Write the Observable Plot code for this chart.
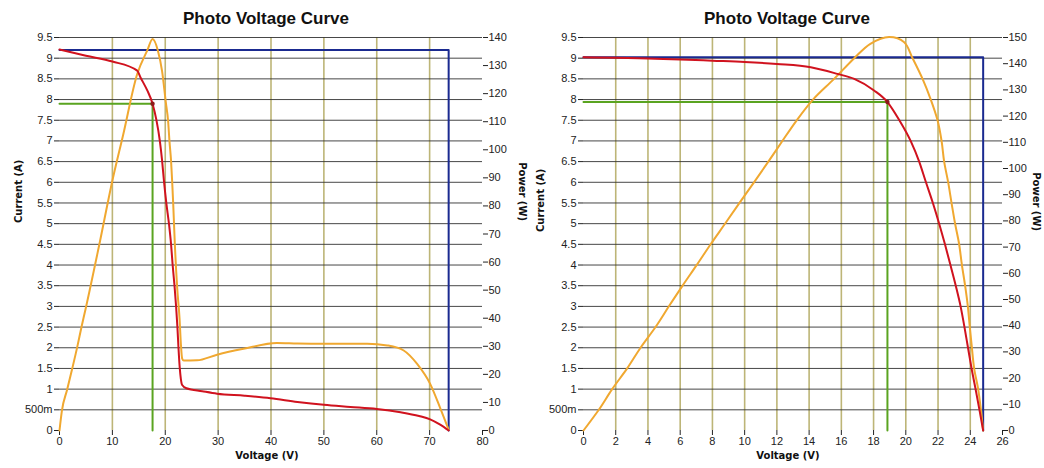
<!DOCTYPE html>
<html>
<head>
<meta charset="utf-8">
<script src="https://cdn.jsdelivr.net/npm/d3@7"></script>
<script src="https://cdn.jsdelivr.net/npm/@observablehq/plot@0.6"></script>
<style>
  html, body { margin: 0; padding: 0; background: #fff; }
  #root { position: relative; width: 1044px; height: 468px; overflow: hidden; }
  .panel { position: absolute; top: 0; height: 468px; }
  .title { height: 30px; box-sizing: border-box; padding-top: 10px; font: bold 17px "Liberation Sans", Arial, sans-serif; line-height: 17px; text-align: center; color: #111; }
</style>
</head>
<body>
<div id="root">
  <div class="panel" id="left" style="left:0;width:520px"><div class="title" style="padding-left:12px">Photo Voltage Curve</div></div>
  <div class="panel" id="right" style="left:520px;width:524px"><div class="title" style="padding-left:10px">Photo Voltage Curve</div></div>
</div>
<script>
// ---------- shared ticks ----------
const currentTicks = [0, 0.5, 1, 1.5, 2, 2.5, 3, 3.5, 4, 4.5, 5, 5.5, 6, 6.5, 7, 7.5, 8, 8.5, 9, 9.5];
const currentTickLabels = ["0", "500m", "1", "1.5", "2", "2.5", "3", "3.5", "4", "4.5", "5", "5.5", "6", "6.5", "7", "7.5", "8", "8.5", "9", "9.5"];

// ---------- left chart ----------
const leftVoltageTicks = [0, 10, 20, 30, 40, 50, 60, 70, 80];
const leftPowerTicks = [0, 10, 20, 30, 40, 50, 60, 70, 80, 90, 100, 110, 120, 130, 140];
const leftIV_V = [0, 5, 10, 14.7, 15.3, 16.6, 17.6, 18.35, 18.97, 19.4, 19.75, 20.2, 20.7, 21.1, 21.4, 21.75, 22.05, 22.3, 22.5, 22.75, 22.95, 23.2, 24.0, 27, 29.8, 35, 39.9, 45, 50, 55, 60, 64.5, 68, 70.1, 72, 73.6];
const leftIV_I = [9.21, 9.06, 8.92, 8.70, 8.54, 8.22, 7.9, 7.49, 7.01, 6.53, 6.04, 5.5, 5.0, 4.5, 4.0, 3.5, 3.0, 2.5, 2.0, 1.5, 1.25, 1.1, 1.02, 0.95, 0.89, 0.84, 0.78, 0.69, 0.62, 0.57, 0.52, 0.44, 0.35, 0.27, 0.14, 0];
const leftP_V = [0, 0.45, 1.45, 2.4, 3.35, 4.15, 4.9, 7.5, 10, 12, 14.7, 16.6, 17.6, 18.6, 19.4, 20.1, 20.55, 20.8, 21.1, 21.3, 21.5, 21.8, 22.25, 22.7, 22.95, 23.2, 23.5, 26, 29.8, 34.8, 41.1, 45, 50, 58.2, 62, 65.1, 67.6, 70.1, 72, 73.6];
const leftP_W = [0, 7, 14.6, 22, 29.7, 36.8, 43, 66, 89, 105, 127, 135.4, 139.5, 135.4, 128, 117, 110, 103, 96, 89, 81, 67, 51, 40, 31, 25.6, 24.9, 25, 27, 29.1, 31.2, 31, 30.9, 30.9, 30.3, 28.5, 23.8, 16.6, 8, 0.3];
const leftIsc = 9.2, leftVoc = 73.6, leftVmp = 17.6, leftImp = 7.9;

// ---------- right chart ----------
const rightVoltageTicks = [0, 2, 4, 6, 8, 10, 12, 14, 16, 18, 20, 22, 24, 26];
const rightPowerTicks = [0, 10, 20, 30, 40, 50, 60, 70, 80, 90, 100, 110, 120, 130, 140, 150];
const rightIV_V = [0, 2, 4, 6, 8, 10, 12, 14.1, 15.75, 16.8, 18.03, 18.86, 19.6, 20.3, 20.83, 21.25, 21.68, 22.07, 22.43, 22.77, 23.1, 23.4, 23.64, 23.86, 24.08, 24.33, 24.57, 24.8];
const rightIV_I = [9.02, 9.01, 8.99, 8.97, 8.94, 8.91, 8.86, 8.78, 8.62, 8.5, 8.22, 7.94, 7.5, 7.0, 6.5, 6.0, 5.5, 5.0, 4.5, 4.0, 3.5, 3.0, 2.5, 2.0, 1.5, 1.0, 0.5, 0];
const rightP_V = [0, 0.95, 1.78, 2.71, 3.54, 4.47, 5.3, 6.15, 7.03, 7.89, 8.78, 9.67, 10.58, 11.47, 12.34, 13.23, 14.24, 15.55, 16.8, 17.8, 18.96, 19.9, 20.42, 21.04, 21.55, 21.97, 22.22, 22.38, 22.63, 22.84, 23.06, 23.31, 23.48, 23.68, 23.85, 23.97, 24.1, 24.24, 24.49, 24.66, 24.8];
const rightP_W = [0, 7.9, 15.8, 23.7, 31.6, 39.5, 47.4, 55.3, 63.2, 71.1, 78.9, 86.8, 94.7, 102.6, 110.5, 118.4, 126.3, 134.2, 142.1, 147.6, 150.2, 148.2, 142.1, 134.2, 126.3, 118.4, 110.5, 102.6, 94.7, 86.8, 78.9, 71.1, 63.2, 55.3, 47.4, 39.5, 31.6, 23.7, 15.8, 7.9, 0];
const rightIsc = 9.02, rightVoc = 24.8, rightVmp = 18.86, rightImp = 7.94;

const COLORS = { current: "#d0121e", power: "#f0a830", isc: "#1a2a90", mpp: "#5aa420", vgrid: "#bdb577", hgrid: "#333333" };

function panel(o) {
  const yMax = 9.5;
  const k = yMax / o.pMax;
  const iv = o.ivV.map((v, i) => ({v, c: o.ivI[i]}));
  const pw = o.pV.map((v, i) => ({v, c: o.pW[i] * k}));
  const iscLine = [{v: 0, c: o.isc}, {v: o.voc, c: o.isc}, {v: o.voc, c: 0}];
  const mppLine = [{v: 0, c: o.imp}, {v: o.vmp, c: o.imp}, {v: o.vmp, c: 0}];
  const xMax = o.xTicks[o.xTicks.length - 1];
  const innerX = o.xTicks.filter(t => t > 0 && t < xMax);
  const labelFont = {fontFamily: "'DejaVu Sans', Verdana, sans-serif", fontSize: 10, fontWeight: "bold", fill: "#111"};
  return Plot.plot({
    width: o.width, height: 438,
    marginTop: 7, marginBottom: 38, marginLeft: o.marginLeft, marginRight: o.marginRight,
    x: {domain: [0, xMax]},
    y: {domain: [0, yMax]},
    style: {fontFamily: "'Liberation Sans', Arial, sans-serif", fontSize: "11px", color: "#222", background: "transparent", overflow: "visible"},
    marks: [
      Plot.ruleX(innerX, {stroke: COLORS.vgrid, strokeWidth: 1.6}),
      Plot.ruleY(currentTicks.filter(t => t > 0), {stroke: COLORS.hgrid, strokeWidth: 1, strokeOpacity: 0.9}),
      Plot.axisX({ticks: o.xTicks, tickSize: 5, tickPadding: 2, label: null, tickFormat: d => String(d)}),
      Plot.axisY({ticks: currentTicks, tickSize: 5, tickPadding: 2, label: null, tickFormat: d => currentTickLabels[currentTicks.indexOf(d)]}),
      Plot.axisY({anchor: "right", ticks: o.pTicks.map(p => p * k), tickSize: 5, tickPadding: 1, label: null, tickFormat: d => String(Math.round(d / k))}),
      Plot.line(iscLine, {x: "v", y: "c", stroke: COLORS.isc, strokeWidth: 2}),
      Plot.line(mppLine, {x: "v", y: "c", stroke: COLORS.mpp, strokeWidth: 2}),
      Plot.line(pw, {x: "v", y: "c", stroke: COLORS.power, strokeWidth: 2, curve: o.powerCurve}),
      Plot.line(iv, {x: "v", y: "c", stroke: COLORS.current, strokeWidth: 2, curve: "monotone-x"}),
      Plot.dot([{v: o.vmp, c: o.imp}], {x: "v", y: "c", r: 2.2, fill: "#8e1a1a"}),
      Plot.text(["Voltage (V)"], {frameAnchor: "bottom", dy: 28, dx: o.xLabelDx, ...labelFont}),
      Plot.text(["Current (A)"], {frameAnchor: "left", dx: o.curDx, dy: o.curDy, rotate: -90, ...labelFont}),
      Plot.text(["Power (W)"], {frameAnchor: "right", dx: o.powDx, dy: o.powDy, rotate: 90, ...labelFont})
    ]
  });
}

document.getElementById("left").appendChild(panel({
  width: 520, marginLeft: 59, marginRight: 38,
  xTicks: leftVoltageTicks, pTicks: leftPowerTicks, pMax: 140,
  ivV: leftIV_V, ivI: leftIV_I, pV: leftP_V, pW: leftP_W,
  isc: leftIsc, voc: leftVoc, vmp: leftVmp, imp: leftImp, powerCurve: "monotone-x",
  xLabelDx: -4, curDx: -41, curDy: -11, powDx: 40, powDy: -13
}));
document.getElementById("right").appendChild(panel({
  width: 524, marginLeft: 63, marginRight: 42,
  xTicks: rightVoltageTicks, pTicks: rightPowerTicks, pMax: 150,
  ivV: rightIV_V, ivI: rightIV_I, pV: rightP_V, pW: rightP_W,
  isc: rightIsc, voc: rightVoc, vmp: rightVmp, imp: rightImp, powerCurve: "catmull-rom",
  xLabelDx: -5, curDx: -43, curDy: -2, powDx: 34, powDy: -3
}));
</script>
</body>
</html>
